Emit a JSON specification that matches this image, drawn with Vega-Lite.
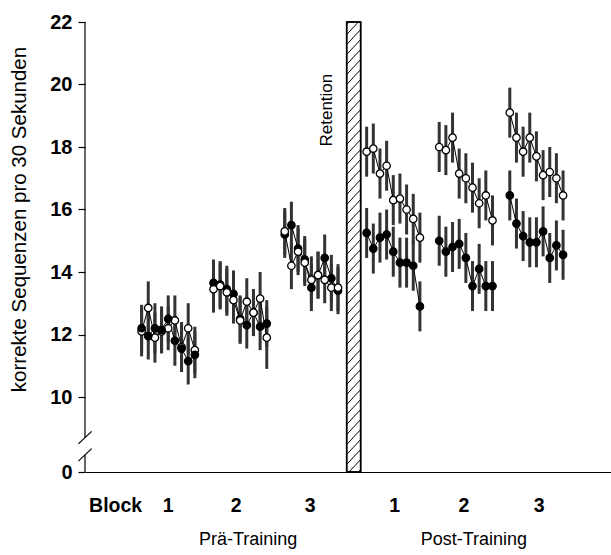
{
  "$schema": "https://vega.github.io/schema/vega-lite/v6.json",
  "width": 526,
  "height": 450,
  "autosize": {"type": "none"},
  "padding": {"left": 85, "top": 22, "right": 0, "bottom": 83},
  "background": "white",
  "config": {"view": {"stroke": null}, "font": "Liberation Sans"},
  "datasets": {
    "pts": [
      {"b":1,"x":8.5,"g":"o","m":12.1,"lo":11.3,"hi":12.9},
      {"b":1,"x":9.5,"g":"o","m":12.85,"lo":12.0,"hi":13.7},
      {"b":1,"x":10.5,"g":"o","m":11.9,"lo":11.1,"hi":12.7},
      {"b":1,"x":11.5,"g":"o","m":12.1,"lo":11.4,"hi":12.8},
      {"b":1,"x":12.5,"g":"o","m":12.2,"lo":11.5,"hi":12.9},
      {"b":1,"x":13.5,"g":"o","m":12.45,"lo":11.65,"hi":13.25},
      {"b":1,"x":14.5,"g":"o","m":11.6,"lo":10.8,"hi":12.4},
      {"b":1,"x":15.5,"g":"o","m":12.2,"lo":11.4,"hi":13.0},
      {"b":1,"x":16.5,"g":"o","m":11.5,"lo":10.75,"hi":12.25},
      {"b":1,"x":8.5,"g":"f","m":12.2,"lo":11.45,"hi":12.95},
      {"b":1,"x":9.5,"g":"f","m":11.95,"lo":11.2,"hi":12.7},
      {"b":1,"x":10.5,"g":"f","m":12.2,"lo":11.4,"hi":13.0},
      {"b":1,"x":11.5,"g":"f","m":12.15,"lo":11.4,"hi":12.9},
      {"b":1,"x":12.5,"g":"f","m":12.5,"lo":11.75,"hi":13.25},
      {"b":1,"x":13.5,"g":"f","m":11.8,"lo":11.0,"hi":12.6},
      {"b":1,"x":14.5,"g":"f","m":11.55,"lo":10.8,"hi":12.3},
      {"b":1,"x":15.5,"g":"f","m":11.15,"lo":10.4,"hi":11.9},
      {"b":1,"x":16.5,"g":"f","m":11.35,"lo":10.6,"hi":12.1},
      {"b":2,"x":19.3,"g":"f","m":13.65,"lo":12.9,"hi":14.4},
      {"b":2,"x":20.3,"g":"f","m":13.6,"lo":12.85,"hi":14.35},
      {"b":2,"x":21.3,"g":"f","m":13.45,"lo":12.7,"hi":14.2},
      {"b":2,"x":22.3,"g":"f","m":13.3,"lo":12.55,"hi":14.05},
      {"b":2,"x":23.3,"g":"f","m":12.5,"lo":11.75,"hi":13.25},
      {"b":2,"x":24.3,"g":"f","m":12.3,"lo":11.55,"hi":13.05},
      {"b":2,"x":25.3,"g":"f","m":12.7,"lo":11.95,"hi":13.45},
      {"b":2,"x":26.3,"g":"f","m":12.25,"lo":11.5,"hi":13.0},
      {"b":2,"x":27.3,"g":"f","m":12.35,"lo":11.6,"hi":13.1},
      {"b":2,"x":19.3,"g":"o","m":13.45,"lo":12.7,"hi":14.2},
      {"b":2,"x":20.3,"g":"o","m":13.55,"lo":12.8,"hi":14.3},
      {"b":2,"x":21.3,"g":"o","m":13.35,"lo":12.6,"hi":14.1},
      {"b":2,"x":22.3,"g":"o","m":13.1,"lo":12.35,"hi":13.85},
      {"b":2,"x":23.3,"g":"o","m":12.45,"lo":11.7,"hi":13.2},
      {"b":2,"x":24.3,"g":"o","m":13.05,"lo":12.3,"hi":13.8},
      {"b":2,"x":25.3,"g":"o","m":12.7,"lo":11.95,"hi":13.45},
      {"b":2,"x":26.3,"g":"o","m":13.15,"lo":12.3,"hi":14.0},
      {"b":2,"x":27.3,"g":"o","m":11.9,"lo":10.9,"hi":12.9},
      {"b":3,"x":30.0,"g":"f","m":15.2,"lo":14.45,"hi":15.95},
      {"b":3,"x":31.0,"g":"f","m":15.5,"lo":14.75,"hi":16.25},
      {"b":3,"x":32.0,"g":"f","m":14.75,"lo":14.0,"hi":15.5},
      {"b":3,"x":33.0,"g":"f","m":14.4,"lo":13.65,"hi":15.15},
      {"b":3,"x":34.0,"g":"f","m":13.5,"lo":12.75,"hi":14.25},
      {"b":3,"x":35.0,"g":"f","m":13.9,"lo":13.15,"hi":14.65},
      {"b":3,"x":36.0,"g":"f","m":14.45,"lo":13.7,"hi":15.2},
      {"b":3,"x":37.0,"g":"f","m":13.8,"lo":13.05,"hi":14.55},
      {"b":3,"x":38.0,"g":"f","m":13.4,"lo":12.65,"hi":14.15},
      {"b":3,"x":30.0,"g":"o","m":15.3,"lo":14.55,"hi":16.05},
      {"b":3,"x":31.0,"g":"o","m":14.2,"lo":13.45,"hi":14.95},
      {"b":3,"x":32.0,"g":"o","m":14.65,"lo":13.9,"hi":15.4},
      {"b":3,"x":33.0,"g":"o","m":14.3,"lo":13.55,"hi":15.05},
      {"b":3,"x":34.0,"g":"o","m":13.75,"lo":13.0,"hi":14.5},
      {"b":3,"x":35.0,"g":"o","m":13.9,"lo":13.15,"hi":14.65},
      {"b":3,"x":36.0,"g":"o","m":13.75,"lo":13.0,"hi":14.5},
      {"b":3,"x":37.0,"g":"o","m":13.5,"lo":12.75,"hi":14.25},
      {"b":3,"x":38.0,"g":"o","m":13.5,"lo":12.75,"hi":14.25},
      {"b":4,"x":42.3,"g":"o","m":17.85,"lo":17.05,"hi":18.65},
      {"b":4,"x":43.3,"g":"o","m":17.95,"lo":17.15,"hi":18.75},
      {"b":4,"x":44.3,"g":"o","m":17.15,"lo":16.35,"hi":17.95},
      {"b":4,"x":45.3,"g":"o","m":17.4,"lo":16.6,"hi":18.2},
      {"b":4,"x":46.3,"g":"o","m":16.3,"lo":15.5,"hi":17.1},
      {"b":4,"x":47.3,"g":"o","m":16.35,"lo":15.55,"hi":17.15},
      {"b":4,"x":48.3,"g":"o","m":16.0,"lo":15.2,"hi":16.8},
      {"b":4,"x":49.3,"g":"o","m":15.7,"lo":14.9,"hi":16.5},
      {"b":4,"x":50.3,"g":"o","m":15.1,"lo":14.3,"hi":15.9},
      {"b":4,"x":42.3,"g":"f","m":15.25,"lo":14.45,"hi":16.05},
      {"b":4,"x":43.3,"g":"f","m":14.75,"lo":13.95,"hi":15.55},
      {"b":4,"x":44.3,"g":"f","m":15.1,"lo":14.3,"hi":15.9},
      {"b":4,"x":45.3,"g":"f","m":15.2,"lo":14.4,"hi":16.0},
      {"b":4,"x":46.3,"g":"f","m":14.65,"lo":13.85,"hi":15.45},
      {"b":4,"x":47.3,"g":"f","m":14.3,"lo":13.5,"hi":15.1},
      {"b":4,"x":48.3,"g":"f","m":14.3,"lo":13.5,"hi":15.1},
      {"b":4,"x":49.3,"g":"f","m":14.2,"lo":13.4,"hi":15.0},
      {"b":4,"x":50.3,"g":"f","m":12.9,"lo":12.1,"hi":13.7},
      {"b":5,"x":53.2,"g":"o","m":18.0,"lo":17.2,"hi":18.8},
      {"b":5,"x":54.2,"g":"o","m":17.9,"lo":17.1,"hi":18.7},
      {"b":5,"x":55.2,"g":"o","m":18.3,"lo":17.5,"hi":19.1},
      {"b":5,"x":56.2,"g":"o","m":17.15,"lo":16.35,"hi":17.95},
      {"b":5,"x":57.2,"g":"o","m":17.0,"lo":16.2,"hi":17.8},
      {"b":5,"x":58.2,"g":"o","m":16.7,"lo":15.9,"hi":17.5},
      {"b":5,"x":59.2,"g":"o","m":16.2,"lo":15.4,"hi":17.0},
      {"b":5,"x":60.2,"g":"o","m":16.45,"lo":15.65,"hi":17.25},
      {"b":5,"x":61.2,"g":"o","m":15.65,"lo":14.85,"hi":16.45},
      {"b":5,"x":53.2,"g":"f","m":15.0,"lo":14.2,"hi":15.8},
      {"b":5,"x":54.2,"g":"f","m":14.65,"lo":13.85,"hi":15.45},
      {"b":5,"x":55.2,"g":"f","m":14.8,"lo":14.0,"hi":15.6},
      {"b":5,"x":56.2,"g":"f","m":14.9,"lo":14.1,"hi":15.7},
      {"b":5,"x":57.2,"g":"f","m":14.45,"lo":13.65,"hi":15.25},
      {"b":5,"x":58.2,"g":"f","m":13.55,"lo":12.75,"hi":14.35},
      {"b":5,"x":59.2,"g":"f","m":14.1,"lo":13.3,"hi":14.9},
      {"b":5,"x":60.2,"g":"f","m":13.55,"lo":12.75,"hi":14.35},
      {"b":5,"x":61.2,"g":"f","m":13.55,"lo":12.75,"hi":14.35},
      {"b":6,"x":63.8,"g":"o","m":19.1,"lo":18.3,"hi":19.9},
      {"b":6,"x":64.8,"g":"o","m":18.3,"lo":17.5,"hi":19.1},
      {"b":6,"x":65.8,"g":"o","m":17.85,"lo":17.05,"hi":18.65},
      {"b":6,"x":66.8,"g":"o","m":18.3,"lo":17.5,"hi":19.1},
      {"b":6,"x":67.8,"g":"o","m":17.7,"lo":16.9,"hi":18.5},
      {"b":6,"x":68.8,"g":"o","m":17.1,"lo":16.3,"hi":17.9},
      {"b":6,"x":69.8,"g":"o","m":17.2,"lo":16.4,"hi":18.0},
      {"b":6,"x":70.8,"g":"o","m":17.0,"lo":16.2,"hi":17.8},
      {"b":6,"x":71.8,"g":"o","m":16.45,"lo":15.65,"hi":17.25},
      {"b":6,"x":63.8,"g":"f","m":16.45,"lo":15.65,"hi":17.25},
      {"b":6,"x":64.8,"g":"f","m":15.55,"lo":14.75,"hi":16.35},
      {"b":6,"x":65.8,"g":"f","m":15.15,"lo":14.35,"hi":15.95},
      {"b":6,"x":66.8,"g":"f","m":14.95,"lo":14.15,"hi":15.75},
      {"b":6,"x":67.8,"g":"f","m":14.95,"lo":14.15,"hi":15.75},
      {"b":6,"x":68.8,"g":"f","m":15.3,"lo":14.5,"hi":16.1},
      {"b":6,"x":69.8,"g":"f","m":14.45,"lo":13.65,"hi":15.25},
      {"b":6,"x":70.8,"g":"f","m":14.85,"lo":14.05,"hi":15.65},
      {"b":6,"x":71.8,"g":"f","m":14.55,"lo":13.75,"hi":15.35}
    ],
    "hatch": [
      {"v":7.2,"v2":7.68},{"v":7.52,"v2":8.0},{"v":7.84,"v2":8.32},{"v":8.16,"v2":8.64},{"v":8.48,"v2":8.96},
      {"v":8.8,"v2":9.28},{"v":9.12,"v2":9.6},{"v":9.44,"v2":9.92},{"v":9.76,"v2":10.24},{"v":10.08,"v2":10.56},
      {"v":10.4,"v2":10.88},{"v":10.72,"v2":11.2},{"v":11.04,"v2":11.52},{"v":11.36,"v2":11.84},{"v":11.68,"v2":12.16},
      {"v":12.0,"v2":12.48},{"v":12.32,"v2":12.8},{"v":12.64,"v2":13.12},{"v":12.96,"v2":13.44},{"v":13.28,"v2":13.76},
      {"v":13.6,"v2":14.08},{"v":13.92,"v2":14.4},{"v":14.24,"v2":14.72},{"v":14.56,"v2":15.04},{"v":14.88,"v2":15.36},
      {"v":15.2,"v2":15.68},{"v":15.52,"v2":16.0},{"v":15.84,"v2":16.32},{"v":16.16,"v2":16.64},{"v":16.48,"v2":16.96},
      {"v":16.8,"v2":17.28},{"v":17.12,"v2":17.6},{"v":17.44,"v2":17.92},{"v":17.76,"v2":18.24},{"v":18.08,"v2":18.56},
      {"v":18.4,"v2":18.88},{"v":18.72,"v2":19.2},{"v":19.04,"v2":19.52},{"v":19.36,"v2":19.84},{"v":19.68,"v2":20.16},
      {"v":20.0,"v2":20.48},{"v":20.32,"v2":20.8},{"v":20.64,"v2":21.12},{"v":20.96,"v2":21.44},{"v":21.28,"v2":21.76},
      {"v":21.6,"v2":22.08},{"v":21.92,"v2":22.4}
    ]
  },
  "layer": [
    {
      "data": {"name": "pts"},
      "mark": {"type": "rule", "strokeWidth": 3, "color": "#333333"},
      "encoding": {
        "x": {"field": "x", "type": "quantitative", "scale": {"domain": [0, 79], "nice": false, "zero": false},
              "axis": {"title": null, "labels": false, "ticks": false, "grid": false, "domain": true, "domainColor": "black", "domainWidth": 1.2}},
        "y": {"field": "lo", "type": "quantitative", "scale": {"domain": [7.6, 22], "nice": false, "zero": false},
              "axis": {"title": "korrekte Sequenzen pro 30 Sekunden", "grid": false, "domain": false,
                       "values": [7.6, 10, 12, 14, 16, 18, 20, 22],
                       "labelExpr": "datum.value < 9 ? '0' : datum.label",
                       "tickSize": 7, "tickColor": "black", "tickWidth": 1.2,
                       "labelFont": "Liberation Sans", "labelFontSize": 20, "labelFontWeight": "bold", "labelColor": "black", "labelPadding": 6,
                       "titleFont": "Liberation Sans", "titleFontSize": 20.5, "titleFontWeight": "normal", "titleColor": "black",
                       "titleX": -66, "titleY": 197, "titleAngle": 270, "titleAlign": "center", "titleBaseline": "middle"}},
        "y2": {"field": "hi"}
      }
    },
    {
      "data": {"name": "pts"},
      "mark": {"type": "line", "color": "black", "strokeWidth": 1},
      "encoding": {
        "x": {"field": "x", "type": "quantitative"},
        "y": {"field": "m", "type": "quantitative"},
        "detail": [{"field": "b"}, {"field": "g"}],
        "order": {"field": "x", "type": "quantitative"}
      }
    },
    {
      "data": {"name": "pts"},
      "mark": {"type": "point", "shape": "circle", "filled": true, "stroke": "black", "strokeWidth": 1.3, "size": 55, "opacity": 1},
      "encoding": {
        "x": {"field": "x", "type": "quantitative"},
        "y": {"field": "m", "type": "quantitative"},
        "fill": {"field": "g", "type": "nominal", "scale": {"domain": ["o", "f"], "range": ["white", "black"]}, "legend": null}
      }
    },
    {
      "data": {"values": [{"x1": 39.3, "x2": 41.4, "y1": 7.6, "y2": 22}]},
      "mark": {"type": "rect", "fill": "white", "stroke": "black", "strokeWidth": 1.5},
      "encoding": {
        "x": {"field": "x1", "type": "quantitative"}, "x2": {"field": "x2"},
        "y": {"field": "y1", "type": "quantitative"}, "y2": {"field": "y2"}
      }
    },
    {
      "data": {"name": "hatch"},
      "transform": [{"calculate": "39.3", "as": "xa"}, {"calculate": "41.4", "as": "xb"}],
      "mark": {"type": "rule", "color": "black", "strokeWidth": 1, "clip": true},
      "encoding": {
        "x": {"field": "xa", "type": "quantitative"}, "x2": {"field": "xb"},
        "y": {"field": "v", "type": "quantitative"}, "y2": {"field": "v2"}
      }
    },
    {
      "data": {"values": [{"x1": 39.3, "x2": 41.4, "y1": 7.6, "y2": 22}]},
      "mark": {"type": "rect", "fill": null, "fillOpacity": 0, "stroke": "black", "strokeWidth": 1.5},
      "encoding": {
        "x": {"field": "x1", "type": "quantitative"}, "x2": {"field": "x2"},
        "y": {"field": "y1", "type": "quantitative"}, "y2": {"field": "y2"}
      }
    },
    {
      "data": {"values": [
        {"xa": 0, "xb": 0, "ya": 7.6, "yb": 8.15},
        {"xa": 0, "xb": 0, "ya": 8.7, "yb": 22},
        {"xa": -1.0, "xb": 1.0, "ya": 7.95, "yb": 8.35},
        {"xa": -1.0, "xb": 1.0, "ya": 8.5, "yb": 8.9}
      ]},
      "mark": {"type": "rule", "color": "black", "strokeWidth": 1.2},
      "encoding": {
        "x": {"field": "xa", "type": "quantitative"}, "x2": {"field": "xb"},
        "y": {"field": "ya", "type": "quantitative"}, "y2": {"field": "yb"}
      }
    },
    {
      "data": {"values": [
        {"x": 4.6, "y": 6.51, "t": "Block"},
        {"x": 12.5, "y": 6.51, "t": "1"},
        {"x": 22.7, "y": 6.51, "t": "2"},
        {"x": 33.8, "y": 6.51, "t": "3"},
        {"x": 46.5, "y": 6.51, "t": "1"},
        {"x": 56.9, "y": 6.51, "t": "2"},
        {"x": 68.2, "y": 6.51, "t": "3"}
      ]},
      "mark": {"type": "text", "font": "Liberation Sans", "fontSize": 19.5, "fontWeight": "bold", "color": "black", "baseline": "middle", "align": "center"},
      "encoding": {
        "x": {"field": "x", "type": "quantitative"},
        "y": {"field": "y", "type": "quantitative"},
        "text": {"field": "t"}
      }
    },
    {
      "data": {"values": [
        {"x": 24.5, "y": 5.42, "t": "Prä-Training"},
        {"x": 58.4, "y": 5.42, "t": "Post-Training"}
      ]},
      "mark": {"type": "text", "font": "Liberation Sans", "fontSize": 18, "color": "black", "baseline": "middle", "align": "center"},
      "encoding": {
        "x": {"field": "x", "type": "quantitative"},
        "y": {"field": "y", "type": "quantitative"},
        "text": {"field": "t"}
      }
    },
    {
      "data": {"values": [{"x": 36.3, "y": 19.18, "t": "Retention"}]},
      "mark": {"type": "text", "font": "Liberation Sans", "fontSize": 17, "color": "black", "baseline": "middle", "align": "center", "angle": 270},
      "encoding": {
        "x": {"field": "x", "type": "quantitative"},
        "y": {"field": "y", "type": "quantitative"},
        "text": {"field": "t"}
      }
    }
  ]
}
